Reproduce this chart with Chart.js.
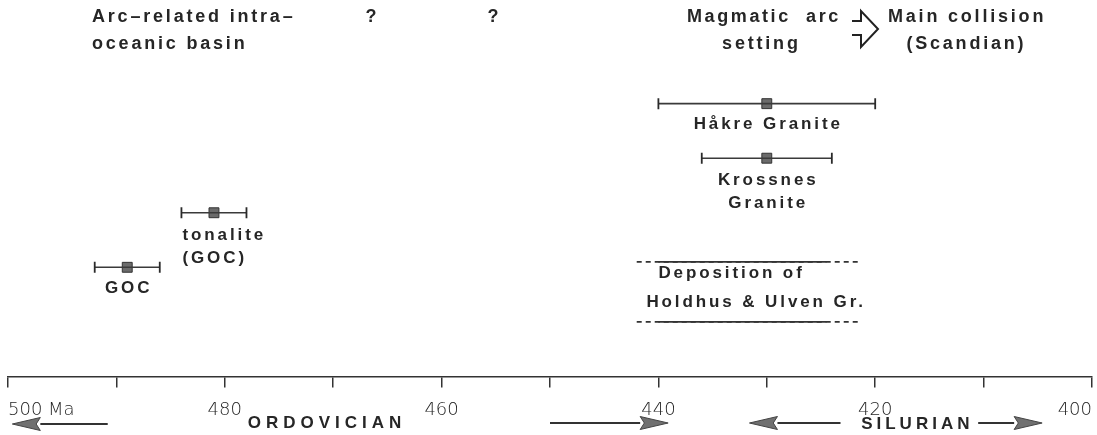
<!DOCTYPE html>
<html>
<head>
<meta charset="utf-8">
<script src="https://cdn.jsdelivr.net/npm/chart.js@4/dist/chart.umd.min.js"></script>
<style>
  html, body { margin: 0; padding: 0; background: #fff; }
  #wrap { width: 1097px; height: 435px; position: relative; }
</style>
</head>
<body>
<div id="wrap"><canvas id="c"></canvas></div>
<script>
// ---- data ----
const samples = ['Håkre Granite', 'Krossnes Granite', 'tonalite (GOC)', 'GOC'];
const ages = [430, 430, 481, 489];          // Ma
const errors = [10, 6, 3, 3];               // ± Ma
const rows = [5, 4, 3, 2];                  // vertical row of each sample
const sampleLabelLines = [['Håkre Granite'], ['Krossnes', 'Granite'], ['tonalite', '(GOC)'], ['GOC']];

const depositionLabel = ['Deposition of', 'Holdhus & Ulven Gr.'];
const depositionSolid = [440, 424.5];       // Ma, certain range
const depositionUncertain = [442, 421.5];   // Ma, dashed extent
const depositionRows = [2.1, 1.0];

const tickValues = [400, 410, 420, 430, 440, 450, 460, 470, 480, 490, 500];
const tickLabels = { 500: '500 Ma', 480: '480', 460: '460', 440: '440', 420: '420', 400: '400' };

const periods = ['ORDOVICIAN', 'SILURIAN'];

// ---- datasets ----
const INK = '#262626';
const datasets = [];
samples.forEach((s, i) => {
  datasets.push({
    type: 'line', label: s + ' error',
    data: [{ x: ages[i] - errors[i], y: rows[i] }, { x: ages[i] + errors[i], y: rows[i] }],
    borderColor: '#3a3a3a', borderWidth: 1.6,
    pointStyle: 'line', rotation: 90, pointRadius: 5.5,
    pointBorderColor: '#2a2a2a', pointBorderWidth: 1.8, pointBackgroundColor: '#2a2a2a'
  });
});
datasets.push({
  type: 'scatter', label: 'age',
  data: samples.map((s, i) => ({ x: ages[i], y: rows[i] })),
  pointStyle: 'rect', pointRadius: 7,
  backgroundColor: '#6b6b6b', borderColor: '#333', borderWidth: 1
});
depositionRows.forEach((r, k) => {
  datasets.push({
    type: 'line', label: 'deposition uncertain ' + k,
    data: [{ x: depositionUncertain[0], y: r }, { x: depositionUncertain[1], y: r }],
    borderColor: '#333', borderWidth: 1.6, borderDash: [5, 4], pointRadius: 0
  });
  datasets.push({
    type: 'line', label: 'deposition ' + k,
    data: [{ x: depositionSolid[0], y: r }, { x: depositionSolid[1], y: r }],
    borderColor: '#333', borderWidth: 1.8, pointRadius: 0
  });
});

// ---- annotation plugin ----
function txt(ctx, s, x, y, align, font, spacing, color) {
  ctx.save();
  ctx.font = font;
  ctx.fillStyle = color || INK;
  ctx.textBaseline = 'middle';
  ctx.letterSpacing = (spacing || 0) + 'px';
  let w = ctx.measureText(s).width;
  let sx = x;
  if (align === 'center') sx = x - (w - (spacing || 0)) / 2;
  else if (align === 'right') sx = x - w;
  ctx.textAlign = 'left';
  ctx.fillText(s, sx, y);
  ctx.restore();
}
function periodArrow(ctx, x1, x2, y) { // head at x2
  const dir = x2 > x1 ? 1 : -1;
  const hl = 28, hw = 6.5;
  ctx.save();
  ctx.strokeStyle = '#333'; ctx.lineWidth = 2;
  ctx.beginPath(); ctx.moveTo(x1, y); ctx.lineTo(x2 - dir * hl, y); ctx.stroke();
  ctx.beginPath();
  ctx.moveTo(x2, y); ctx.lineTo(x2 - dir * hl, y - hw); ctx.lineTo(x2 - dir * hl * 0.85, y); ctx.lineTo(x2 - dir * hl, y + hw); ctx.closePath();
  ctx.fillStyle = '#707070'; ctx.fill(); ctx.lineWidth = 1; ctx.strokeStyle = '#444'; ctx.stroke();
  ctx.restore();
}
const annot = {
  id: 'annot',
  afterDatasetsDraw(chart) {
    const ctx = chart.ctx, xs = chart.scales.x, ys = chart.scales.y;
    const F = 'bold 17px "Liberation Sans", Arial, sans-serif';
    const FH = 'bold 18px "Liberation Sans", Arial, sans-serif';
    const X = v => xs.getPixelForValue(v), Y = v => ys.getPixelForValue(v);
    // sample labels
    txt(ctx, sampleLabelLines[0][0], X(ages[0]), Y(rows[0]) + 21, 'center', F, 2.9);
    txt(ctx, sampleLabelLines[1][0], X(ages[1]), Y(rows[1]) + 22, 'center', F, 2.9);
    txt(ctx, sampleLabelLines[1][1], X(ages[1]), Y(rows[1]) + 45, 'center', F, 2.9);
    txt(ctx, sampleLabelLines[2][0], X(ages[2] + errors[2]) + 1, Y(rows[2]) + 23, 'left', F, 2.9);
    txt(ctx, sampleLabelLines[2][1], X(ages[2] + errors[2]) + 1, Y(rows[2]) + 46, 'left', F, 2.9);
    txt(ctx, sampleLabelLines[3][0], X(ages[3]), Y(rows[3]) + 21, 'center', F, 2.9);
    // deposition
    txt(ctx, depositionLabel[0], X(depositionSolid[0]), Y(depositionRows[0]) + 11, 'left', F, 2.9);
    txt(ctx, depositionLabel[1], X(depositionSolid[0]) - 12, Y(depositionRows[0]) + 40, 'left', F, 2.9);
    // header
    txt(ctx, 'Arc\u2013related intra\u2013', 92, 17, 'left', FH, 2.8);
    txt(ctx, 'oceanic basin', 92, 44, 'left', FH, 2.8);
    txt(ctx, '?', 371, 17, 'center', FH, 0);
    txt(ctx, '?', 493, 17, 'center', FH, 0);
    txt(ctx, 'Magmatic  arc', 687, 17, 'left', FH, 2.6);
    txt(ctx, 'setting', 760, 44, 'center', FH, 2.8);
    txt(ctx, 'Main collision', 888, 17, 'left', FH, 2.8);
    txt(ctx, '(Scandian)', 965, 44, 'center', FH, 2.8);
    // hollow arrow
    ctx.save();
    ctx.strokeStyle = '#222'; ctx.lineWidth = 2; ctx.lineJoin = 'miter';
    ctx.beginPath();
    ctx.moveTo(852, 21); ctx.lineTo(861, 21); ctx.lineTo(861, 11); ctx.lineTo(878, 29);
    ctx.lineTo(861, 47); ctx.lineTo(861, 35); ctx.lineTo(852, 35);
    ctx.stroke();
    ctx.restore();
    // periods
    const PF = 'bold 17px "Liberation Sans", Arial, sans-serif';
    txt(ctx, periods[0], X(470.8), 423, 'center', PF, 5);
    txt(ctx, periods[1], X(416.3), 424, 'center', PF, 4);
    periodArrow(ctx, X(490.8), X(499.6), 424);
    periodArrow(ctx, X(450), X(439.1), 423);
    periodArrow(ctx, X(423.2), X(431.6), 423);
    periodArrow(ctx, X(410.5), X(404.6), 423);
  }
};

new Chart(document.getElementById('c'), {
  type: 'scatter',
  data: { datasets },
  plugins: [annot],
  options: {
    responsive: true, maintainAspectRatio: false, animation: false,
    layout: { autoPadding: false, padding: { left: 8, right: 5, top: 0, bottom: 2 } },
    plugins: { legend: { display: false }, tooltip: { enabled: false } },
    scales: {
      x: {
        type: 'linear', reverse: true, min: 400, max: 500, position: 'bottom',
        afterBuildTicks: (axis) => { axis.ticks = tickValues.map(v => ({ value: v })); },
        ticks: {
          autoSkip: false, maxRotation: 0, align: 'inner', padding: 12,
          color: '#1e1e1e',
          font: { family: '"DejaVu Sans Light", "DejaVu Sans Condensed", sans-serif', size: 18 },
          callback: (v) => tickLabels[v] || ''
        },
        grid: { drawOnChartArea: false, drawTicks: true, tickLength: 11, color: '#333', lineWidth: 1.5 },
        border: { display: true, color: '#333', width: 1.5 }
      },
      y: { display: false, min: 0, max: 6.9 }
    }
  }
});
</script>
</body>
</html>
